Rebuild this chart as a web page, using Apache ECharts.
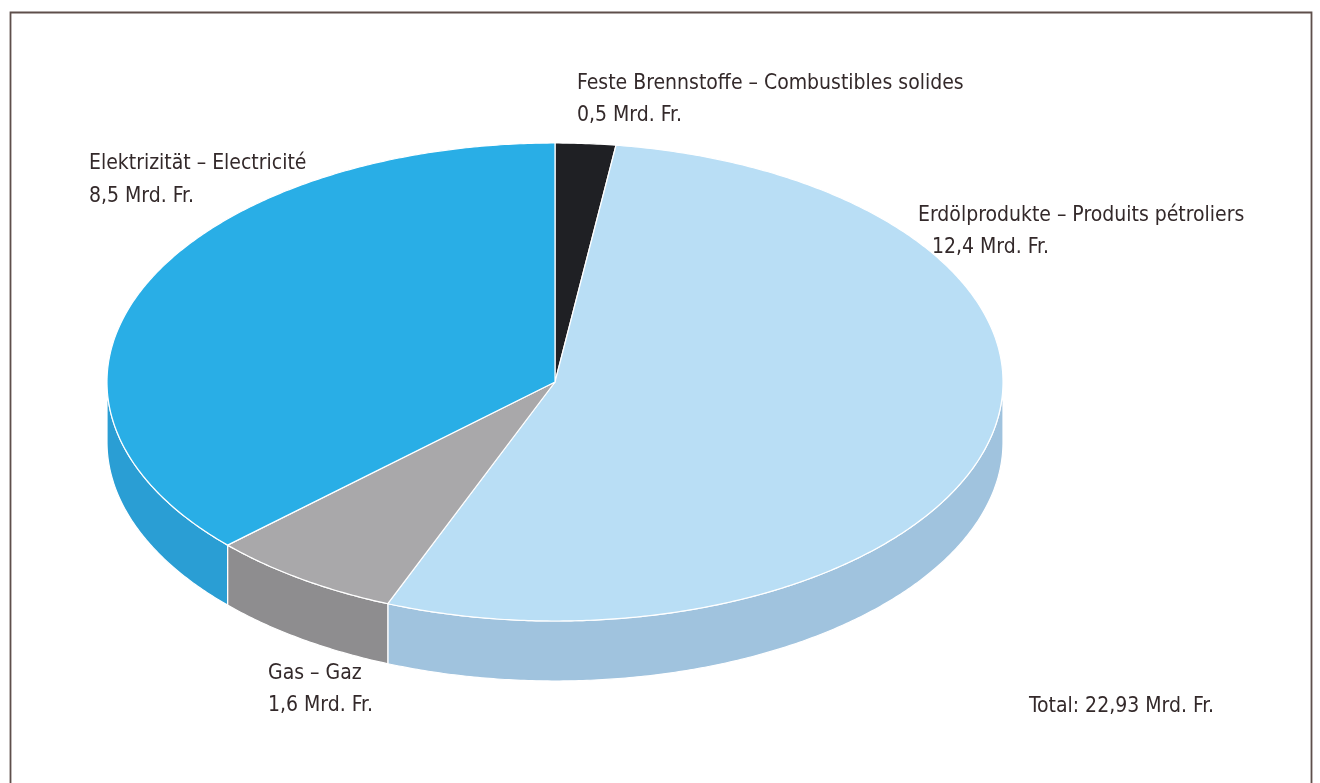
<!DOCTYPE html>
<html>
<head>
<meta charset="utf-8">
<script src="https://cdn.jsdelivr.net/npm/echarts@6/dist/echarts.min.js"></script>
<style>
html,body{margin:0;padding:0;background:#fff;}
#chart{width:1320px;height:783px;}
</style>
</head>
<body>
<div id="chart"></div>
<script>
const categories = ['Feste Brennstoffe – Combustibles solides', 'Erdölprodukte – Produits pétroliers', 'Gas – Gaz', 'Elektrizität – Electricité'];
const values = [0.5, 12.4, 1.6, 8.5];
const valueLabels = ['0,5 Mrd. Fr.', '12,4 Mrd. Fr.', '1,6 Mrd. Fr.', '8,5 Mrd. Fr.'];
const totalLabel = 'Total: 22,93 Mrd. Fr.';
const topColors = ['#1f2024', '#b9def5', '#a9a8aa', '#29aee6'];
const sideColors = ['#141518', '#a0c3de', '#8e8d8f', '#2a9ed4'];

const FONT = "'Liberation Sans Narrow', 'DejaVu Sans Condensed', 'Open Sans', sans-serif";
const TXT = '#33292a';
const CX = 555, CY = 382, RX = 448, RY = 239, DEPTH = 60;

const total = values.reduce((a, b) => a + b, 0);
function pt(t, dy) { return [CX + RX * Math.sin(t), CY - RY * Math.cos(t) + (dy || 0)]; }
function arc(a, b, dy) {
  const n = Math.max(2, Math.ceil((b - a) / (Math.PI / 360)));
  const out = [];
  for (let k = 0; k <= n; k++) out.push(pt(a + (b - a) * k / n, dy));
  return out;
}

function renderItem(params, api) {
  const i = params.dataIndex;
  let before = 0;
  for (let k = 0; k < i; k++) before += values[k];
  const a = before / total * Math.PI * 2;
  const b = (before + api.value(0)) / total * Math.PI * 2;
  const children = [];
  const sa = Math.max(a, Math.PI / 2), sb = Math.min(b, Math.PI * 1.5);
  if (sb > sa) {
    const upper = arc(sa, sb, 0);
    const lower = arc(sa, sb, DEPTH).reverse();
    children.push({
      type: 'polygon', z2: 1,
      shape: { points: upper.concat(lower) },
      style: { fill: sideColors[i], stroke: '#ffffff', lineWidth: 1.2 }
    });
  }
  children.push({
    type: 'polygon', z2: 2,
    shape: { points: [[CX, CY]].concat(arc(a, b, 0)) },
    style: { fill: topColors[i], stroke: '#ffffff', lineWidth: 1.2, lineJoin: 'round' }
  });
  return { type: 'group', children: children };
}

function label(x, y, text) {
  return { type: 'text', left: x, top: y, style: { text: text, font: '21px ' + FONT, fill: TXT } };
}

const chart = echarts.init(document.getElementById('chart'), null, { renderer: 'canvas' });
chart.setOption({
  animation: false,
  backgroundColor: '#ffffff',
  graphic: [
    { type: 'rect', shape: { x: 10.5, y: 12.5, width: 1301, height: 800 }, style: { fill: 'none', stroke: '#5e4f4b', lineWidth: 1.8 }, z: -1 },
    label(577, 73, categories[0]),
    label(577, 105, valueLabels[0]),
    label(918, 205, categories[1]),
    label(932, 237, valueLabels[1]),
    label(268, 663, categories[2]),
    label(268, 695, valueLabels[2]),
    label(89, 153, categories[3]),
    label(89, 186, valueLabels[3]),
    label(1029, 696, totalLabel)
  ],
  series: [{
    type: 'custom',
    coordinateSystem: 'none',
    renderItem: renderItem,
    data: values.map(v => [v])
  }]
});
</script>
</body>
</html>
